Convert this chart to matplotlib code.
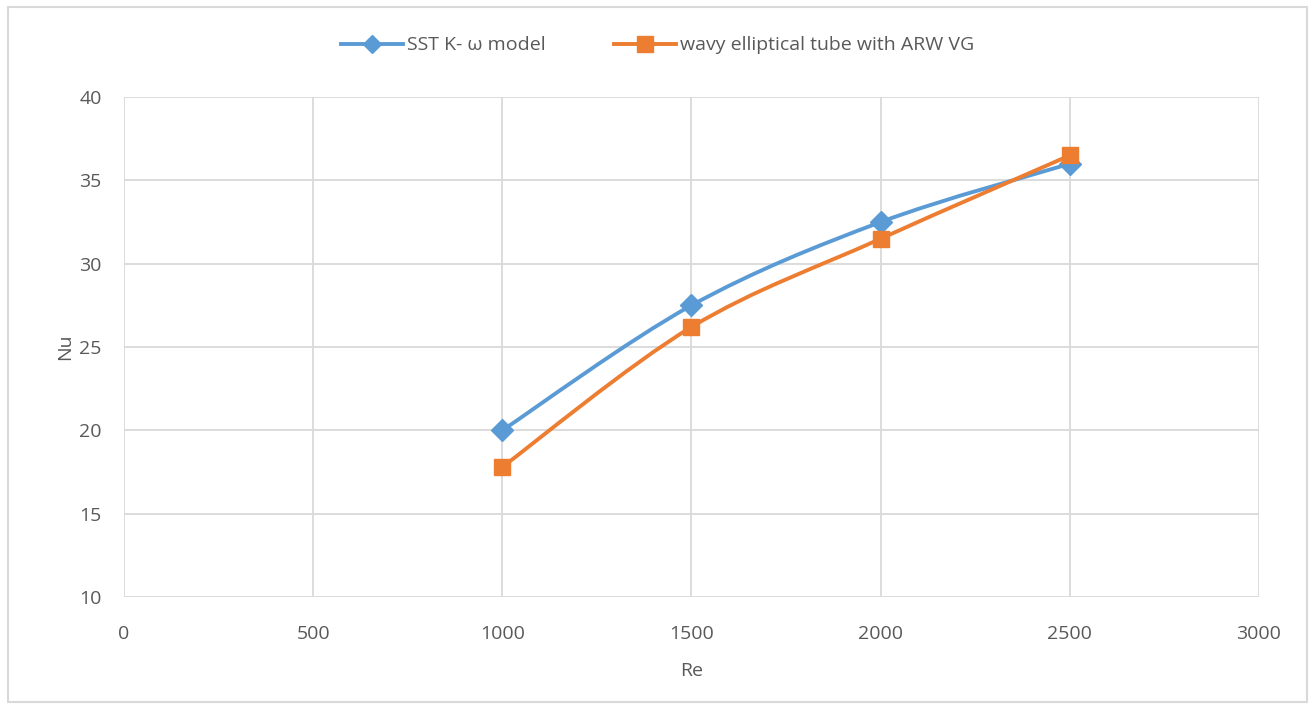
import numpy as np
import matplotlib.pyplot as plt
from matplotlib.path import Path
from matplotlib.patches import PathPatch, Rectangle
from matplotlib.lines import Line2D

plt.rcParams['font.family'] = ['Open Sans', 'DejaVu Sans']

re_vals = [1000, 1500, 2000, 2500]
nu_sst = [20.0, 27.5, 32.5, 36.0]
nu_wavy = [17.8, 26.2, 31.5, 36.5]
labels = ["SST K- \u03c9 model", "wavy elliptical tube with ARW VG"]

BLUE = "#5B9BD5"
ORANGE = "#ED7D31"
TXT = "#595959"
GRID = "#D9D9D9"
FS = 14


def smooth_path(x, y):
    """Excel-like smoothed line: cubic Bezier through the points."""
    p = np.column_stack([x, y]).astype(float)
    verts = [p[0]]
    codes = [Path.MOVETO]
    n = len(p)
    for i in range(n - 1):
        p0 = p[i - 1] if i > 0 else p[i]
        p3 = p[i + 2] if i + 2 < n else p[i + 1]
        c1 = p[i] + (p[i + 1] - p0) / 6
        c2 = p[i + 1] - (p3 - p[i]) / 6
        verts += [c1, c2, p[i + 1]]
        codes += [Path.CURVE4] * 3
    return Path(verts, codes)


fig = plt.figure(figsize=(13.15, 7.09), dpi=100)
fig.patches.append(Rectangle((0.006, 0.01), 0.988, 0.98, transform=fig.transFigure,
                             fill=False, edgecolor=GRID, linewidth=1.5))
ax = fig.add_axes([0.0943, 0.158, 0.863, 0.705])

for yv, col, mk, ms in [(nu_sst, BLUE, "D", 11), (nu_wavy, ORANGE, "s", 12)]:
    ax.add_patch(PathPatch(smooth_path(re_vals, yv), facecolor="none",
                           edgecolor=col, linewidth=2.8, zorder=3, capstyle="round"))
    ax.plot(re_vals, yv, linestyle="none", marker=mk, markersize=ms,
            color=col, zorder=4)

ax.set_xlim(0, 3000)
ax.set_ylim(10, 40)
ax.set_xticks(np.arange(0, 3001, 500))
ax.set_yticks(np.arange(10, 41, 5))
ax.grid(True, color=GRID, linewidth=1.3)
ax.set_axisbelow(True)
for s in ax.spines.values():
    s.set_visible(False)
ax.tick_params(axis="y", length=0, labelsize=FS, labelcolor=TXT, pad=16)
ax.tick_params(axis="x", length=0, labelsize=FS, labelcolor=TXT, pad=20)
ax.set_xlabel("Re", fontsize=FS, color=TXT, labelpad=14)
ax.set_ylabel("Nu", fontsize=FS, color=TXT, labelpad=4)

handles = [Line2D([], [], color=BLUE, linewidth=2.8, marker="D", markersize=9),
           Line2D([], [], color=ORANGE, linewidth=2.8, marker="s", markersize=11)]
fig.legend(handles, labels, loc="center", bbox_to_anchor=(0.5, 0.936), ncol=2,
           frameon=False, fontsize=FS, labelcolor=TXT, handlelength=3.2,
           handletextpad=0.2, columnspacing=3.5)

fig.savefig("out.png", dpi=100)
